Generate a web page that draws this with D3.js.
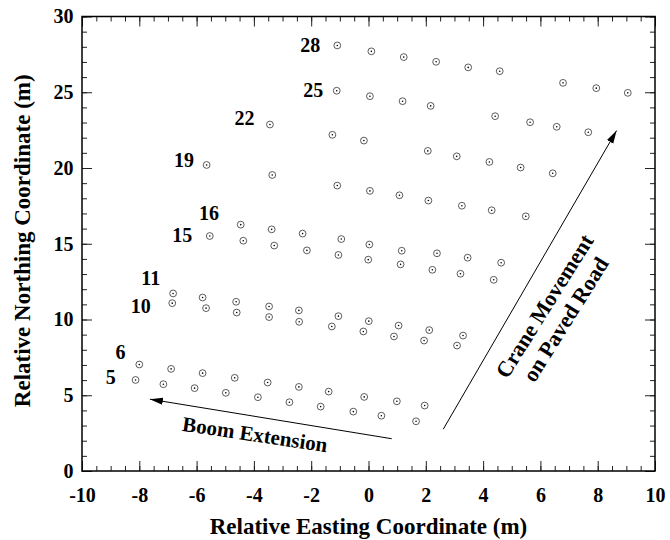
<!DOCTYPE html>
<html>
<head>
<meta charset="utf-8">
<script src="https://cdn.jsdelivr.net/npm/d3@7"></script>
<style>
  body { margin: 0; background: #fff; }
  svg text { font-family: "Liberation Serif", "Times New Roman", serif; font-weight: bold; fill: #000; }
</style>
</head>
<body>
<svg id="chart"></svg>
<script>
// --- Data: survey points per crane position (x = easting, y = northing, m) ---
const row5 = [[-8.13,6.01],[-7.16,5.73],[-6.07,5.47],[-4.98,5.16],[-3.86,4.87],[-2.76,4.54],[-1.67,4.25],[-0.53,3.92],[0.45,3.65],[1.66,3.28]];
const row6 = [[-8.0,7.03],[-6.89,6.74],[-5.79,6.46],[-4.67,6.15],[-3.52,5.84],[-2.43,5.55],[-1.39,5.24],[-0.15,4.89],[0.99,4.6],[1.96,4.32]];
const row10 = [[-6.85,11.08],[-5.67,10.75],[-4.6,10.46],[-3.47,10.16],[-2.42,9.85],[-1.28,9.54],[-0.18,9.21],[0.89,8.88],[1.94,8.61],[3.09,8.28]];
const row11 = [[-6.82,11.72],[-5.79,11.45],[-4.62,11.17],[-3.47,10.86],[-2.43,10.6],[-1.05,10.22],[0.01,9.89],[1.05,9.6],[2.12,9.3],[3.3,8.94]];
const row15 = [[-5.54,15.51],[-4.37,15.2],[-3.29,14.88],[-2.15,14.56],[-1.05,14.26],[-0.01,13.95],[1.12,13.64],[2.23,13.28],[3.21,13.02],[4.37,12.62]];
const row16 = [[-4.46,16.26],[-3.38,15.95],[-2.3,15.67],[-0.95,15.31],[0.03,14.95],[1.16,14.54],[2.39,14.37],[3.46,14.08],[4.63,13.75]];
const row19 = [[-5.65,20.2],[-3.36,19.54],[-1.09,18.84],[0.05,18.49],[1.08,18.2],[2.09,17.85],[3.26,17.51],[4.3,17.21],[5.49,16.81]];
const row22 = [[-3.44,22.87],[-1.26,22.19],[-0.16,21.81],[2.07,21.13],[3.08,20.77],[4.22,20.4],[5.31,20.03],[6.43,19.65]];
const row25 = [[-1.11,25.1],[0.05,24.74],[1.19,24.41],[2.17,24.1],[4.42,23.42],[5.64,23.02],[6.57,22.72],[7.67,22.36]];
const row28 = [[-1.09,28.09],[0.1,27.7],[1.23,27.32],[2.36,27.01],[3.48,26.64],[4.58,26.39],[6.79,25.62],[7.95,25.27],[9.05,24.96]];
const rows = [row5, row6, row10, row11, row15, row16, row19, row22, row25, row28];

// Row labels and where they sit (data units)
const rowLabels = ["5", "6", "10", "11", "15", "16", "19", "22", "25", "28"];
const rowLabelPos = [[-9.0,6.17],[-8.66,7.82],[-7.95,10.86],[-7.6,12.74],[-6.5,15.58],[-5.57,17.01],[-6.44,20.54],[-4.33,23.31],[-1.93,25.12],[-2.03,28.09]];

// Arrows (data units)
const boomArrow = [[0.81,2.13],[-7.63,4.74]];
const craneArrow = [[2.61,2.76],[8.66,22.47]];

// Axis ticks
const xMajor = d3.range(-10, 10.01, 2);
const xMinor = d3.range(-10, 10.01, 0.5);
const yMajor = d3.range(0, 30.01, 5);
const yMinor = d3.range(0, 30.01, 1);

const width = 670, height = 540;
const svg = d3.select("#chart").attr("width", width).attr("height", height);

const x = d3.scaleLinear().domain([-10, 10]).range([82, 655]);
const y = d3.scaleLinear().domain([0, 30]).range([471, 16.5]);
const [x0, x1] = x.range();
const [y0, y1] = y.range();

// --- Ticks (inside, all four sides) ---
function tickAxis(axis, transform, labels) {
  const g = svg.append("g").attr("transform", transform).call(axis);
  g.select(".domain").remove();
  g.selectAll("line").attr("stroke", "#222").attr("stroke-width", 1);
  if (!labels) g.selectAll("text").remove();
  return g;
}

tickAxis(d3.axisBottom(x).tickValues(xMinor).tickSize(-5), `translate(0,${y0})`, false);
tickAxis(d3.axisTop(x).tickValues(xMinor).tickSize(-5), `translate(0,${y1})`, false);
tickAxis(d3.axisLeft(y).tickValues(yMinor).tickSize(-5), `translate(${x0},0)`, false);
tickAxis(d3.axisRight(y).tickValues(yMinor).tickSize(-5), `translate(${x1},0)`, false);

tickAxis(d3.axisBottom(x).tickValues(xMajor).tickSize(-10).tickPadding(16.5), `translate(0,${y0})`, true)
  .selectAll("text").attr("font-size", 20).text(d => d < 0 ? "-" + Math.abs(d) : d);
tickAxis(d3.axisTop(x).tickValues(xMajor).tickSize(-10), `translate(0,${y1})`, false);
tickAxis(d3.axisLeft(y).tickValues(yMajor).tickSize(-10).tickPadding(8.5).tickFormat(d3.format("d")), `translate(${x0},0)`, true)
  .selectAll("text").attr("font-size", 20);
tickAxis(d3.axisRight(y).tickValues(yMajor).tickSize(-10), `translate(${x1},0)`, false);

// Frame
svg.append("rect")
  .attr("x", x0).attr("y", y1)
  .attr("width", x1 - x0).attr("height", y0 - y1)
  .attr("fill", "none").attr("stroke", "#000").attr("stroke-width", 1.5);

// --- Axis titles ---
svg.append("text")
  .attr("x", (x0 + x1) / 2).attr("y", 534)
  .attr("text-anchor", "middle").attr("font-size", 23)
  .text("Relative Easting Coordinate (m)");

svg.append("text")
  .attr("transform", `translate(30,${(y0 + y1) / 2 - 3}) rotate(-90)`)
  .attr("text-anchor", "middle").attr("font-size", 23)
  .text("Relative Northing Coordinate (m)");

// --- Points ---
const pts = svg.append("g");
rows.forEach(row => {
  const g = pts.append("g").selectAll("g").data(row).join("g")
    .attr("transform", d => `translate(${x(d[0])},${y(d[1])})`);
  g.append("circle").attr("r", 3.4).attr("fill", "#fff").attr("stroke", "#333").attr("stroke-width", 0.8);
  g.append("circle").attr("r", 0.8).attr("fill", "#000");
});

// Row labels
svg.append("g").selectAll("text").data(rowLabels).join("text")
  .attr("x", (d, i) => x(rowLabelPos[i][0]))
  .attr("y", (d, i) => y(rowLabelPos[i][1]))
  .attr("dy", "0.34em")
  .attr("text-anchor", "middle").attr("font-size", 20)
  .text(d => d);

// --- Arrows ---
svg.append("defs").append("marker")
  .attr("id", "head").attr("markerUnits", "userSpaceOnUse")
  .attr("viewBox", "0 -4 13 8").attr("refX", 13).attr("refY", 0)
  .attr("markerWidth", 13).attr("markerHeight", 8).attr("orient", "auto")
  .append("path").attr("d", "M0,-3.6L13,0L0,3.6Z").attr("fill", "#000");

const line = d3.line().x(d => x(d[0])).y(d => y(d[1]));
[boomArrow, craneArrow].forEach(a => {
  svg.append("path").attr("d", line(a))
    .attr("fill", "none").attr("stroke", "#000").attr("stroke-width", 1)
    .attr("marker-end", "url(#head)");
});

// --- Annotations ---
svg.append("text")
  .attr("transform", `translate(${x(-3.96)},${y(2.43)}) rotate(8.5)`)
  .attr("dy", "0.35em")
  .attr("text-anchor", "middle").attr("font-size", 21)
  .text("Boom Extension");

const crane = svg.append("g")
  .attr("transform", `translate(${x(6.51)},${y(10.45)}) rotate(-58)`);
crane.append("text").attr("y", -5).attr("text-anchor", "middle").attr("font-size", 22).text("Crane Movement");
crane.append("text").attr("y", 20).attr("text-anchor", "middle").attr("font-size", 22).text("on Paved Road");
</script>
</body>
</html>
